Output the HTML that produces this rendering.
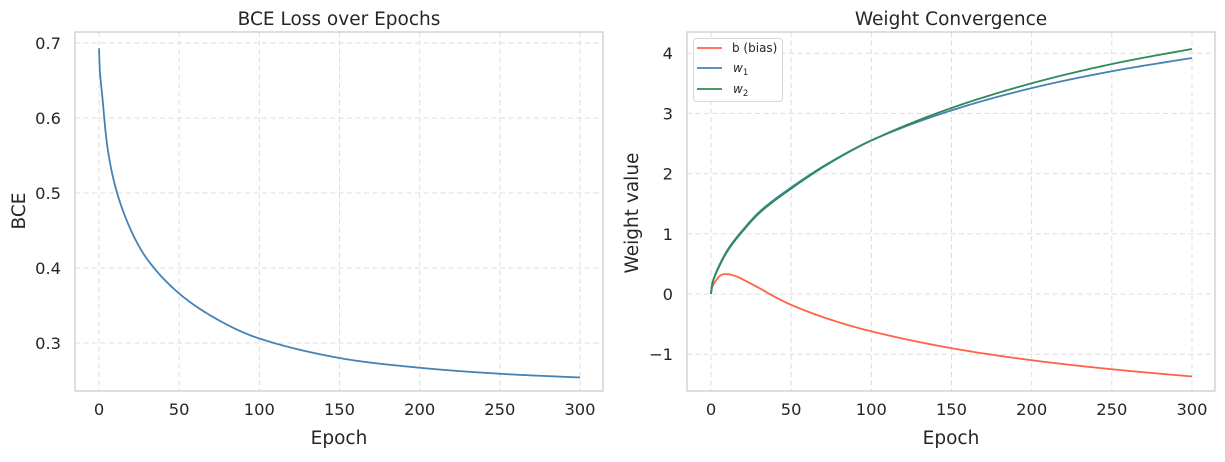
<!DOCTYPE html>
<html><head><meta charset="utf-8"><style>
body{margin:0;background:#fff;}
svg text{font-family:"DejaVu Sans","Liberation Sans",sans-serif;fill:#262626;}
</style></head><body>
<svg id="s" width="1225" height="457" xmlns="http://www.w3.org/2000/svg">
<rect width="1225" height="457" fill="#fff"/>
<g id="grid" stroke="#dddddd" stroke-width="1" stroke-dasharray="5,3.5"></g>
<rect x="75" y="32" width="528" height="359" fill="none" stroke="#cccccc" stroke-width="1.3"/>
<rect x="687" y="32" width="528" height="359" fill="none" stroke="#cccccc" stroke-width="1.3"/>
<g id="lines" fill="none" stroke-width="1.8"></g>
<g id="labels" font-size="16.3" text-anchor="middle"></g>
<text x="339" y="25" font-size="18.5" text-anchor="middle">BCE Loss over Epochs</text>
<text x="951" y="25" font-size="18.5" text-anchor="middle">Weight Convergence</text>
<text x="339" y="444" font-size="18.5" text-anchor="middle">Epoch</text>
<text x="951" y="444" font-size="18.5" text-anchor="middle">Epoch</text>
<text transform="translate(25,211) rotate(-90)" font-size="18.5" text-anchor="middle">BCE</text>
<text transform="translate(638,213) rotate(-90)" font-size="18.5" text-anchor="middle">Weight value</text>
<g>
<rect x="693.5" y="38.5" width="89" height="63" rx="3" fill="#fff" fill-opacity="0.85" stroke="#d8d8d8"/>
<line x1="697" y1="48" x2="722" y2="48" stroke="#ff6347" stroke-width="1.8"/>
<line x1="697" y1="68" x2="722" y2="68" stroke="#4682b4" stroke-width="1.8"/>
<line x1="697" y1="89" x2="722" y2="89" stroke="#2e8b57" stroke-width="1.8"/>
<text x="732" y="52" font-size="12">b (bias)</text>
<text x="733" y="72" font-size="12" font-style="italic">w<tspan font-size="8.5" dy="3" font-style="normal">1</tspan></text>
<text x="733" y="93" font-size="12" font-style="italic">w<tspan font-size="8.5" dy="3" font-style="normal">2</tspan></text>
</g>
</svg>
<script>
const NS="http://www.w3.org/2000/svg";
function el(p,t,a,txt){const e=document.createElementNS(NS,t);for(const k in a)e.setAttribute(k,a[k]);if(txt!==undefined)e.textContent=txt;document.getElementById(p).appendChild(e);return e;}
const lx=t=>99+t*1.6033, rx=t=>711+t*1.6033;
const ly=v=>43+(0.7-v)*750, ry=v=>294-v*60.2;
for(let t=0;t<=300;t+=50){
 el('grid','line',{x1:lx(t),x2:lx(t),y1:32,y2:391});
 el('grid','line',{x1:rx(t),x2:rx(t),y1:32,y2:391});
 el('labels','text',{x:lx(t),y:415},String(t));
 el('labels','text',{x:rx(t),y:415},String(t));
}
[0.3,0.4,0.5,0.6,0.7].forEach(v=>{el('grid','line',{x1:75,x2:603,y1:ly(v),y2:ly(v)});
 el('labels','text',{x:61,y:ly(v)+6,'text-anchor':'end'},v.toFixed(1));});
[-1,0,1,2,3,4].forEach(v=>{el('grid','line',{x1:687,x2:1215,y1:ry(v),y2:ry(v)});
 el('labels','text',{x:673,y:ry(v)+6,'text-anchor':'end'},v<0?'\u2212'+(-v):String(v));});
function interp(pts,t){const S=Math.sqrt;const u=S(t);for(let i=0;i<pts.length-1;i++){const t0=S(pts[i][0]),v0=pts[i][1],t1=S(pts[i+1][0]),v1=pts[i+1][1];if(u<=t1){
 const p0=pts[Math.max(0,i-1)],p3=pts[Math.min(pts.length-1,i+2)];
 const a0=S(p0[0]),a3=S(p3[0]);
 const m1=(v1-p0[1])/((t1-a0)||1)*(t1-t0),m2=(p3[1]-v0)/((a3-t0)||1)*(t1-t0);
 const s=(u-t0)/(t1-t0),s2=s*s,s3=s2*s;
 return (2*s3-3*s2+1)*v0+(s3-2*s2+s)*m1+(-2*s3+3*s2)*v1+(s3-s2)*m2;}}return pts[pts.length-1][1];}
function path(pts,fx,fy,col){let d='';for(let t=0;t<=300;t+=0.5){d+=(t?'L':'M')+fx(t).toFixed(2)+','+fy(interp(pts,t)).toFixed(2);}
 el('lines','path',{d:d,stroke:col});}
const bce=[[0,0.693],[2,0.63],[5,0.565],[10,0.51],[20,0.45],[30,0.412],[50,0.366],[75,0.33],[100,0.306],[150,0.28],[200,0.267],[250,0.259],[300,0.254]];
const b=[[0,0],[3,0.22],[6,0.31],[10,0.33],[15,0.3],[20,0.24],[30,0.1],[40,-0.05],[50,-0.18],[75,-0.43],[100,-0.62],[150,-0.9],[200,-1.1],[250,-1.25],[300,-1.37]];
const w1=[[0,0],[2,0.28],[5,0.47],[10,0.72],[20,1.07],[30,1.36],[50,1.77],[75,2.2],[100,2.55],[150,3.05],[200,3.42],[250,3.7],[300,3.92]];
const w2=[[0,0],[2,0.27],[5,0.45],[10,0.7],[20,1.05],[30,1.34],[50,1.75],[75,2.19],[100,2.55],[150,3.09],[200,3.5],[250,3.82],[300,4.07]];
path(bce,lx,ly,'#4682b4');
path(b,rx,ry,'#ff6347');
path(w1,rx,ry,'#4682b4');
path(w2,rx,ry,'#2e8b57');
</script>
</body></html>
